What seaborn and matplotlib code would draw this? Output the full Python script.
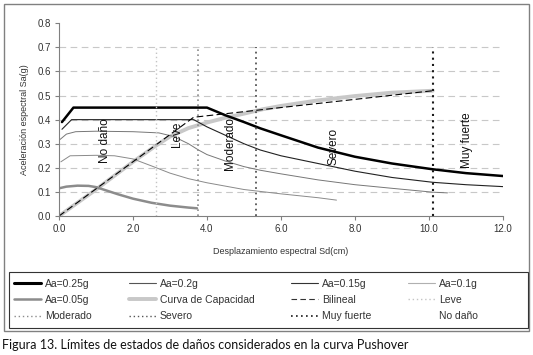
import matplotlib
matplotlib.use("Agg")
import matplotlib.pyplot as plt
from matplotlib.patches import Rectangle
from matplotlib.lines import Line2D
import numpy as np
import pandas as pd
import seaborn as sns

# spectra for each Aa (Sd in cm, Sa in g)
sd_025 = [0.08, 0.39, 4.0, 4.5, 5.0, 5.44, 6.0, 7.0, 8.0, 9.0, 10.1, 11.0, 12.0]
sa_025 = [0.39, 0.45, 0.45, 0.418, 0.39, 0.364, 0.335, 0.284, 0.246, 0.218, 0.194, 0.178, 0.166]

sd_02 = [0.08, 0.34, 3.64, 4.0, 4.5, 5.0, 5.44, 6.0, 7.0, 8.0, 9.0, 10.1, 11.0, 12.0]
sa_02 = [0.36, 0.40, 0.40, 0.37, 0.335, 0.30, 0.274, 0.25, 0.218, 0.186, 0.16, 0.14, 0.13, 0.122]

sd_015 = [0.03, 0.2, 0.45, 1.0, 2.0, 2.7, 3.1, 3.5, 3.77, 4.0, 4.5, 5.0, 5.44, 6.0, 7.0, 8.0, 9.0, 10.1, 10.5]
sa_015 = [0.318, 0.34, 0.35, 0.352, 0.35, 0.345, 0.33, 0.30, 0.274, 0.255, 0.228, 0.205, 0.19, 0.175, 0.15, 0.13, 0.115, 0.099, 0.096]

sd_01 = [0.05, 0.3, 1.0, 1.5, 2.0, 2.5, 3.0, 3.5, 4.0, 5.0, 6.0, 7.0, 7.5]
sa_01 = [0.225, 0.25, 0.252, 0.25, 0.237, 0.208, 0.178, 0.155, 0.138, 0.11, 0.092, 0.076, 0.066]

sd_005 = [0.0, 0.2, 0.5, 0.8, 1.0, 1.3, 1.6, 2.0, 2.5, 3.0, 3.5, 3.73]
sa_005 = [0.115, 0.122, 0.126, 0.125, 0.12, 0.105, 0.09, 0.072, 0.055, 0.043, 0.035, 0.032]

# capacity curve and bilinear fit
sd_cap = [0.0, 1.0, 2.0, 2.6, 3.0, 3.5, 4.0, 4.5, 5.0, 5.5, 6.0, 7.0, 8.0, 9.0, 10.1]
sa_cap = [0.0, 0.11, 0.225, 0.29, 0.33, 0.365, 0.388, 0.408, 0.425, 0.443, 0.457, 0.48, 0.498, 0.512, 0.52]

sd_bil = [0.0, 3.64, 10.1]
sa_bil = [0.0, 0.41, 0.52]

# damage state limits
limit_names = ["Leve", "Moderado", "Severo", "Muy fuerte"]
limit_sd = [2.61, 3.75, 5.33, 10.12]
limit_top = 0.70

sns.set_theme(style="white")
plt.rcParams["font.family"] = ["Liberation Sans", "DejaVu Sans"]

fig = plt.figure(figsize=(5.33, 3.55), dpi=100)
ax = fig.add_axes([0.1107, 0.3915, 0.833, 0.5429])

# outer frame of the figure
fig.patches.append(Rectangle((0.0075, 0.0676), 0.985, 0.921, transform=fig.transFigure,
                             fill=False, edgecolor="#808080", linewidth=1.0))
# legend box (drawn separately so the columns keep the Excel spacing)
fig.patches.append(Rectangle((0.0169, 0.0761), 0.9737, 0.1577, transform=fig.transFigure,
                             fill=False, edgecolor="#333333", linewidth=0.8))

# dashed horizontal grid
ax.hlines(np.arange(0.1, 0.75, 0.1), 0, 12, colors="#c8c8c8", linewidth=0.8,
          linestyles=(0, (6, 4)), zorder=0)

# capacity curve goes underneath the spectra
sns.lineplot(x=sd_cap, y=sa_cap, ax=ax, color="#c8c8c8", linewidth=2.8, sort=False,
             estimator=None, legend=False)

series = [
    (sd_005, sa_005, "#8c8c8c", 1.8),
    (sd_01, sa_01, "#8a8a8a", 0.7),
    (sd_015, sa_015, "#777777", 0.7),
    (sd_02, sa_02, "#222222", 0.8),
    (sd_025, sa_025, "#000000", 1.8),
]
for x, y, col, lw in series:
    sns.lineplot(x=x, y=y, ax=ax, color=col, linewidth=lw, sort=False,
                 estimator=None, legend=False)

sns.lineplot(x=sd_bil, y=sa_bil, ax=ax, color="black", linewidth=0.8, sort=False,
             estimator=None, legend=False)
ax.lines[-1].set_dashes((6, 3))

limit_colors = ["#c4c4c4", "#8c8c8c", "#555555", "#1a1a1a"]
limit_lw = [1.0, 1.2, 1.3, 1.5]
for xv, col, lw in zip(limit_sd, limit_colors, limit_lw):
    ax.vlines(xv, 0, limit_top, colors=col, linewidth=lw, linestyles=(0, (1, 2)))

# rotated state labels
labels_pos = [("No daño", 1.25, 0.315), ("Leve", 3.2, 0.34), ("Moderado", 4.63, 0.30),
              ("Severo", 7.42, 0.29), ("Muy fuerte", 11.03, 0.315)]
for txt, xx, yy in labels_pos:
    ax.text(xx, yy, txt, rotation=90, ha="center", va="center", fontsize=8.5, color="#111111")

ax.set_xlim(0, 12)
ax.set_ylim(0, 0.8)
ax.set_xticks(np.arange(0, 12.1, 2))
ax.set_xticklabels([f"{v:.1f}" for v in np.arange(0, 12.1, 2)])
ax.set_yticks(np.arange(0, 0.81, 0.1))
ax.set_yticklabels([f"{v:.1f}" for v in np.arange(0, 0.81, 0.1)])
ax.tick_params(axis="both", labelsize=7, labelcolor="#333333", color="#808080",
               length=3, width=0.8, direction="out", left=True, bottom=True, pad=3)
for s in ["top", "right"]:
    ax.spines[s].set_visible(False)
for s in ["left", "bottom"]:
    ax.spines[s].set_color("#808080")
    ax.spines[s].set_linewidth(0.8)

ax.set_xlabel("Desplazamiento espectral Sd(cm)", fontsize=6.5, color="#333333", labelpad=9)
ax.set_ylabel("Aceleración espectral Sa(g)", fontsize=6.5, color="#333333", labelpad=6)

# legend, Excel order read row by row
handles = [
    Line2D([], [], color="#000000", linewidth=2.2),
    Line2D([], [], color="#555555", linewidth=0.8),
    Line2D([], [], color="#333333", linewidth=0.8),
    Line2D([], [], color="#b0b0b0", linewidth=0.8),
    Line2D([], [], color="#8c8c8c", linewidth=1.8),
    Line2D([], [], color="#c8c8c8", linewidth=2.8),
    Line2D([], [], color="#333333", linewidth=0.8, dashes=(5, 3)),
    Line2D([], [], color="#c4c4c4", linewidth=1.0, linestyle=(0, (1, 2))),
    Line2D([], [], color="#8c8c8c", linewidth=1.0, linestyle=(0, (1, 2))),
    Line2D([], [], color="#555555", linewidth=1.0, linestyle=(0, (1, 2))),
    Line2D([], [], color="#1a1a1a", linewidth=1.2, linestyle=(0, (1, 2))),
    Line2D([], [], linestyle="none"),
]
names = ["Aa=0.25g", "Aa=0.2g", "Aa=0.15g", "Aa=0.1g", "Aa=0.05g", "Curva de Capacidad",
         "Bilineal", "Leve", "Moderado", "Severo", "Muy fuerte", "No daño"]
order = [r * 4 + c for c in range(4) for r in range(3)]
leg = fig.legend([handles[i] for i in order], [names[i] for i in order], ncol=4,
                 loc="center left", bbox_to_anchor=(0.0169, 0.0761 + 0.1577 / 2),
                 borderaxespad=0, fontsize=7.5, frameon=False, handlelength=2.6,
                 handletextpad=0.4, labelspacing=0.62, borderpad=0.5, columnspacing=3.5)
for t in leg.get_texts():
    t.set_color("#333333")

fig.text(0.004, 0.028, "Figura 13. Límites de estados de daños considerados en la curva Pushover",
         fontsize=9, family=["Lato", "DejaVu Sans"], color="#111111", va="center")

fig.savefig("out.png", dpi=100)
